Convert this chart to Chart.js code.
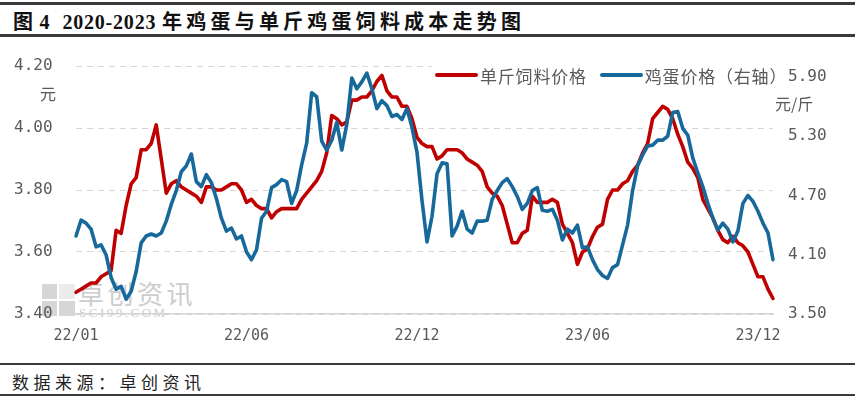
<!DOCTYPE html>
<html>
<head>
<meta charset="utf-8">
<script src="https://cdn.jsdelivr.net/npm/chart.js@4.4.1/dist/chart.umd.min.js"></script>
<style>
  body { margin: 0; width: 855px; height: 405px; overflow: hidden; background: #fff; position: relative;
         font-family: "Noto Sans CJK SC", sans-serif; }
  .abs { position: absolute; }
  .rule { position: absolute; left: 0; width: 855px; background: #3a3a3a; }
  #title { left: 13px; top: 12px; line-height: 20px; font-size: 20px; font-weight: bold; color: #111;
           font-family: "Liberation Serif", "Noto Sans CJK SC", serif; letter-spacing: 4.2px; white-space: nowrap; }
  #title .num { letter-spacing: 0.8px; }
  #chart { position: absolute; left: 0; top: 40px; }
  #legend { left: 432px; top: 64px; height: 22px; width: 354px; background: #fff; display: flex; align-items: center;
            font-size: 17px; color: #595959; letter-spacing: 0.8px; white-space: nowrap; }
  #legend .key { display: inline-block; width: 43px; height: 4px; border-radius: 2px; margin: 0 2px 0 3px; }
  #legend .item { display: flex; align-items: center; margin-right: 10px; }
  .unit { font-size: 16px; color: #595959; line-height: 16px; white-space: nowrap; }
  #source { left: 12px; top: 373px; font-size: 17px; line-height: 18px; letter-spacing: 4.5px; color: #222; }
  .wm { color: #cdcdcd; white-space: nowrap; }
  .sq { position: absolute; background: #d6d6d6; }
</style>
</head>
<body>
<div class="rule" style="top:2px;height:3px"></div>
<div id="title" class="abs"><span class="num">图 4<span style="margin-left:12px">2020-2023</span> </span>年鸡蛋与单斤鸡蛋饲料成本走势图</div>
<div class="rule" style="top:34px;height:3px"></div>

<!-- watermark sits under the transparent canvas -->
<div class="sq" style="left:42px;top:284px;width:15px;height:15px"></div>
<div class="sq" style="left:42px;top:301px;width:15px;height:15px"></div>
<div class="sq" style="left:59px;top:301px;width:16px;height:15px"></div>
<div class="sq" style="left:59px;top:284px;width:16px;height:15px;background:#ececec"></div>
<div class="abs wm" style="left:78px;top:279px;font-size:26px;line-height:27px;letter-spacing:3.5px">卓创资讯</div>
<div class="abs wm" style="left:79px;top:306px;font-size:13px;line-height:13px;letter-spacing:2.5px;font-family:'Liberation Serif',serif">SCI99.COM</div>

<canvas id="chart" width="855" height="320"></canvas>

<div id="legend" class="abs"></div>
<div class="abs unit" style="left:40px;top:85px">元</div>
<div class="abs unit" style="left:775px;top:95px">元/斤</div>

<div class="rule" style="top:363px;height:2px"></div>
<div id="source" class="abs">数据来源：卓创资讯</div>
<div class="rule" style="top:394px;height:2px"></div>

<script>
// x-axis labels shown, and the point index each one sits on
const xTickText = ["22/01", "22/06", "22/12", "23/06", "23/12"];
const xTickAt = [0, 34, 68, 102, 136];

// 单斤饲料价格 (元, left axis)
const feedCost = [
  3.47, 3.48, 3.49, 3.50, 3.50, 3.52, 3.53, 3.54, 3.67, 3.66,
  3.75, 3.82, 3.84, 3.93, 3.93, 3.95, 4.01, 3.90, 3.79, 3.82,
  3.83, 3.81, 3.80, 3.79, 3.78, 3.76, 3.81, 3.81, 3.80, 3.80,
  3.81, 3.82, 3.82, 3.80, 3.76, 3.77, 3.75, 3.74, 3.74, 3.71,
  3.73, 3.74, 3.74, 3.74, 3.74, 3.77, 3.79, 3.81, 3.83, 3.86,
  3.92, 4.04, 4.03, 4.01, 4.02, 4.09, 4.09, 4.10, 4.10, 4.12,
  4.15, 4.17, 4.12, 4.10, 4.10, 4.07, 4.07, 4.03, 3.97, 3.95,
  3.94, 3.94, 3.90, 3.91, 3.93, 3.93, 3.93, 3.92, 3.90, 3.89,
  3.88, 3.86, 3.81, 3.79, 3.78, 3.75, 3.69, 3.63, 3.63, 3.66,
  3.67, 3.78, 3.76, 3.76, 3.76, 3.77, 3.76, 3.69, 3.66, 3.63,
  3.56, 3.60, 3.61, 3.65, 3.68, 3.69, 3.77, 3.80, 3.80, 3.82,
  3.83, 3.86, 3.88, 3.92, 3.95, 4.03, 4.05, 4.07, 4.06, 4.03,
  3.98, 3.94, 3.89, 3.87, 3.84, 3.77, 3.74, 3.71, 3.67, 3.64,
  3.63, 3.65, 3.63, 3.62, 3.60, 3.56, 3.52, 3.52, 3.48, 3.45
];

// 鸡蛋价格 (元/斤, right axis)
const eggPrice = [
  4.29, 4.45, 4.42, 4.36, 4.18, 4.20, 4.10, 3.87, 3.75, 3.78,
  3.65, 3.73, 3.93, 4.22, 4.29, 4.31, 4.29, 4.32, 4.44, 4.61,
  4.75, 4.94, 5.00, 5.12, 4.84, 4.79, 4.91, 4.83, 4.67, 4.47,
  4.34, 4.37, 4.26, 4.29, 4.13, 4.05, 4.15, 4.47, 4.54, 4.78,
  4.81, 4.86, 4.84, 4.62, 4.75, 5.01, 5.23, 5.74, 5.70, 5.25,
  5.16, 5.26, 5.44, 5.16, 5.42, 5.89, 5.78, 5.85, 5.94, 5.78,
  5.58, 5.66, 5.61, 5.50, 5.52, 5.47, 5.58, 5.39, 5.14, 4.65,
  4.23, 4.49, 4.92, 5.03, 5.02, 4.29, 4.39, 4.54, 4.36, 4.32,
  4.44, 4.44, 4.45, 4.66, 4.75, 4.83, 4.87, 4.79, 4.69, 4.56,
  4.62, 4.75, 4.78, 4.55, 4.54, 4.56, 4.45, 4.25, 4.36, 4.32,
  4.40, 4.17, 4.18, 4.05, 3.95, 3.89, 3.86, 3.97, 4.00, 4.20,
  4.40, 4.75, 5.00, 5.11, 5.20, 5.21, 5.26, 5.26, 5.30, 5.54,
  5.55, 5.38, 5.31, 5.08, 4.93, 4.79, 4.62, 4.47, 4.35, 4.42,
  4.36, 4.23, 4.34, 4.62, 4.70, 4.64, 4.54, 4.42, 4.32, 4.05
];

const leftTicks = [3.4, 3.6, 3.8, 4.0, 4.2];
const rightTicks = [3.5, 4.1, 4.7, 5.3, 5.9];
const categories = feedCost.map((_, i) => i);

const tickFont = { family: "DejaVu Sans Mono", size: 16 };
const grey = "#595959";

const chart = new Chart(document.getElementById("chart"), {
  type: "line",
  data: {
    labels: categories,
    datasets: [
      { label: "单斤饲料价格", data: feedCost, borderColor: "#C00000", yAxisID: "y", order: 1 },
      { label: "鸡蛋价格（右轴）", data: eggPrice, borderColor: "#17699B", yAxisID: "y2", order: 0 },
    ],
  },
  options: {
    responsive: false,
    animation: false,
    layout: { padding: { top: 26, left: 14, right: 0, bottom: 0 } },
    elements: {
      line: { borderWidth: 3.6, tension: 0, borderJoinStyle: "round", borderCapStyle: "round" },
      point: { radius: 0 },
    },
    plugins: { legend: { display: false }, tooltip: { enabled: false } },
    scales: {
      x: {
        type: "category",
        grid: { display: false, drawTicks: false },
        border: { display: true, color: "#d4d4d4", width: 1.5 },
        afterFit: (s) => { s.height = 46; },
        ticks: {
          autoSkip: false, maxRotation: 0, padding: 13, color: grey,
          font: { family: "DejaVu Sans Mono", size: 15 },
          callback: (v, i) => {
            const k = xTickAt.indexOf(i);
            return k < 0 ? "" : xTickText[k];
          },
        },
      },
      y: {
        position: "left",
        min: 3.4, max: 4.2,
        afterFit: (s) => { s.width = 62; },
        afterBuildTicks: (s) => { s.ticks = leftTicks.map((v) => ({ value: v })); },
        grid: { color: "#d6d6d6", lineWidth: 1, drawTicks: false },
        border: { display: false, dash: [6, 5] },
        ticks: { padding: 0, crossAlign: "far", color: grey, font: tickFont, callback: (v) => v.toFixed(2) },
      },
      y2: {
        position: "right",
        min: 3.5, max: 6.011,
        afterFit: (s) => { s.width = 82; },
        afterBuildTicks: (s) => { s.ticks = rightTicks.map((v) => ({ value: v })); },
        grid: { display: false, drawTicks: false },
        border: { display: false },
        ticks: { padding: 15, color: grey, font: tickFont, callback: (v) => v.toFixed(2) },
      },
    },
  },
});

// legend built from the chart's own datasets
const legend = document.getElementById("legend");
chart.data.datasets.forEach((ds) => {
  const item = document.createElement("span");
  item.className = "item";
  item.innerHTML = '<span class="key" style="background:' + ds.borderColor + '"></span>' + ds.label;
  legend.appendChild(item);
});
</script>
</body>
</html>
